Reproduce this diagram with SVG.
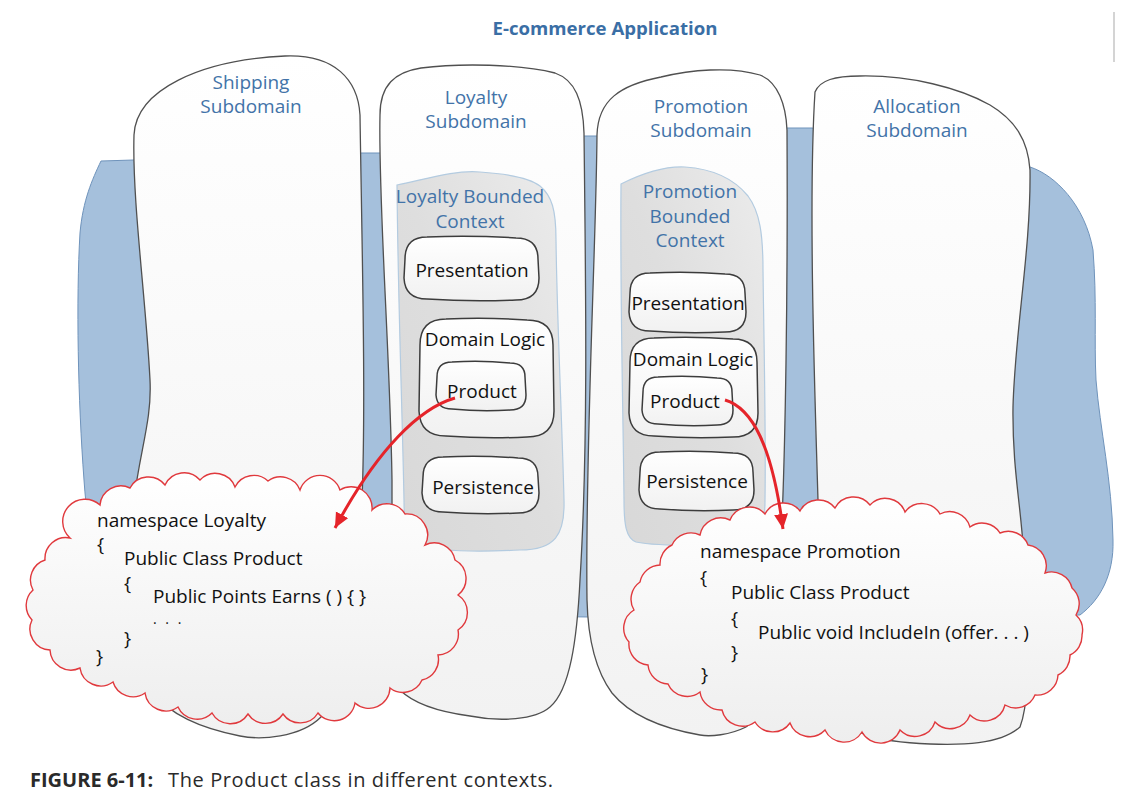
<svg xmlns="http://www.w3.org/2000/svg" width="1142" height="809" viewBox="0 0 1142 809">
<defs>
<linearGradient id="colGrad" x1="0" y1="0" x2="0" y2="1">
<stop offset="0" stop-color="#ffffff"/>
<stop offset="1" stop-color="#f2f2f2"/>
</linearGradient>
<linearGradient id="bcGrad" x1="1" y1="0" x2="0" y2="1">
<stop offset="0" stop-color="#ececec"/>
<stop offset="0.5" stop-color="#dedede"/>
<stop offset="1" stop-color="#d8d8d8"/>
</linearGradient>
<linearGradient id="boxGrad" x1="0" y1="0" x2="0" y2="1">
<stop offset="0" stop-color="#ffffff"/>
<stop offset="1" stop-color="#f1f1f1"/>
</linearGradient>
<linearGradient id="cloudGrad" x1="0" y1="0" x2="0" y2="1">
<stop offset="0" stop-color="#ffffff"/>
<stop offset="1" stop-color="#eeeeee"/>
</linearGradient>
<marker id="arrow" markerUnits="userSpaceOnUse" markerWidth="18" markerHeight="16" refX="15" refY="7" orient="auto">
<path d="M0,0 L15,7 L0,14 Z" fill="#e5242a"/>
</marker>
</defs>
<style>
.col{fill:url(#colGrad);stroke:#505050;stroke-width:1.3}
.bc{fill:url(#bcGrad);stroke:#b3cbe0;stroke-width:1.2}
.box{fill:url(#boxGrad);stroke:#3c3c3c;stroke-width:1.5}
.cloud{fill:url(#cloudGrad);stroke:#e0393d;stroke-width:1.4}
.blue{fill:#a5c0dc;stroke:#6f93bb;stroke-width:1}
.lbl{font-family:"Open Sans","Liberation Sans",sans-serif;font-size:19px;fill:#4273a8;text-anchor:middle}
.txt{font-family:"Open Sans","Liberation Sans",sans-serif;font-size:19px;fill:#111;text-anchor:middle}
.code{font-family:"Open Sans","Liberation Sans",sans-serif;font-size:19px;fill:#111}
.title{font-family:"Open Sans","Liberation Sans",sans-serif;font-size:18.6px;font-weight:bold;fill:#3a6ea5;text-anchor:middle}
.cap{font-family:"Open Sans","Liberation Sans",sans-serif;font-size:20px;fill:#2a2a2a}
.conn{fill:none;stroke:#e5242a;stroke-width:3;marker-end:url(#arrow)}
</style>
<rect x="0" y="0" width="1142" height="809" fill="#ffffff"/>
<line x1="1114" y1="12" x2="1114" y2="62" stroke="#d4d4d4" stroke-width="2"/>
<text class="title" x="605" y="35">E-commerce Application</text>

<g id="background">
<path class="blue" d="M101,161 L362,153 L380,153 L584,136 L597,136 L787,128 L812,128 L1030,167 C1055,175 1085,205 1093,250 C1097,300 1094,340 1096,380 C1100,430 1112,480 1113,540 C1114,575 1100,600 1080,615 L590,617 L120,612 C100,590 88,540 84,480 C78,400 76,300 80,233 C83,200 92,180 101,161 Z"/>
</g>

<g id="shipping">
<path class="col" d="M134,135 C136,90 200,60 285,56 C335,54 358,80 360,115 C362,250 366,400 362,500 C358,600 340,690 321,717 C300,738 260,740 240,736 C200,728 170,715 150,690 C135,600 130,520 134,500 C140,450 152,420 150,380 C146,300 132,200 134,135 Z"/>
<text class="lbl"><tspan x="251" y="89">Shipping</tspan><tspan x="251" y="113">Subdomain</tspan></text>
</g>

<g id="loyalty">
<path class="col" d="M380,115 C380,85 395,72 421,68 C460,63 520,64 555,73 C575,80 583,100 584,133 C586,300 588,450 580,580 C577,640 570,690 550,707 C535,720 500,722 470,716 C440,712 415,705 400,690 C392,650 392,560 392,480 C390,350 378,200 380,115 Z"/>
<text class="lbl"><tspan x="476" y="104">Loyalty</tspan><tspan x="476" y="128">Subdomain</tspan></text>
</g>

<g id="promotion">
<path class="col" d="M597,135 C598,100 620,85 661,77 C690,70 730,66 760,75 C778,82 786,105 787,130 C788,300 785,450 782,520 C778,600 770,680 760,705 C755,718 750,725 746,727 C730,735 710,737 700,735 C660,728 630,715 612,693 C595,670 588,640 587,600 C585,450 596,250 597,135 Z"/>
<text class="lbl"><tspan x="701" y="113">Promotion</tspan><tspan x="701" y="137">Subdomain</tspan></text>
</g>

<g id="allocation">
<path class="col" d="M815,92 C820,80 835,76 860,76 C910,75 960,88 990,105 C1015,120 1028,140 1030,170 C1031,250 1015,330 1013,407 C1012,480 1025,520 1026,600 C1027,660 1030,700 1020,727 C1000,745 960,745 930,744 C880,742 840,735 830,700 C824,600 820,550 818,500 C815,400 808,200 815,92 Z"/>
<text class="lbl"><tspan x="917" y="113">Allocation</tspan><tspan x="917" y="137">Subdomain</tspan></text>
</g>

<g id="loyalty-bc">
<path class="bc" d="M397,185 C430,178 455,170 480,172 C510,174 530,178 540,186 C552,196 556,210 556,240 C557,320 562,420 564,500 C565,535 555,550 520,550 C480,552 440,552 420,545 C405,538 404,520 404,500 C402,400 398,300 397,185 Z"/>
<text class="lbl"><tspan x="470" y="203">Loyalty Bounded</tspan><tspan x="470" y="228">Context</tspan></text>
</g>
<g id="loyalty-presentation">
<path class="box" d="M427,237 Q471,235 516,238 Q538,238 538,259 L539,278 Q539,300 516,300 Q471,302 427,299 Q405,299 404,278 L405,259 Q405,237 427,237 Z"/>
<text class="txt" x="472" y="277">Presentation</text>
</g>
<g id="loyalty-domain">
<path class="box" d="M446,319 Q486,317 527,320 Q553,320 553,345 L554,411 Q554,437 527,437 Q486,439 446,436 Q420,436 419,411 L420,345 Q420,319 446,319 Z"/>
<text class="txt" x="485" y="346">Domain Logic</text>
</g>
<g id="loyalty-product">
<path class="box" d="M452,362 Q481,360 510,363 Q525,363 525,377 L526,395 Q526,410 510,410 Q481,412 452,409 Q437,409 436,395 L437,377 Q437,362 452,362 Z"/>
<text class="txt" x="482" y="398">Product</text>
</g>
<g id="loyalty-persistence">
<path class="box" d="M443,457 Q480,455 518,458 Q538,458 538,477 L539,493 Q539,513 518,513 Q480,515 443,512 Q423,512 422,493 L423,477 Q423,457 443,457 Z"/>
<text class="txt" x="483" y="494">Persistence</text>
</g>

<g id="promotion-bc">
<path class="bc" d="M621,184 C645,172 665,166 685,167 C715,169 735,180 748,196 C760,212 763,235 763,270 C764,350 766,430 765,500 C765,530 760,545 730,545 C690,546 655,546 636,542 C626,538 624,525 624,500 C623,400 620,300 621,184 Z"/>
<text class="lbl"><tspan x="690" y="198">Promotion</tspan><tspan x="690" y="223">Bounded</tspan><tspan x="690" y="247">Context</tspan></text>
</g>
<g id="promotion-presentation">
<path class="box" d="M650,273 Q688,271 725,274 Q745,274 745,293 L746,312 Q746,332 725,332 Q688,334 650,331 Q630,331 629,312 L630,293 Q630,273 650,273 Z"/>
<text class="txt" x="688" y="310">Presentation</text>
</g>
<g id="promotion-domain">
<path class="box" d="M654,338 Q693,336 733,339 Q757,339 757,362 L758,413 Q758,437 733,437 Q693,439 654,436 Q630,436 629,413 L630,362 Q630,338 654,338 Z"/>
<text class="txt" x="693" y="366">Domain Logic</text>
</g>
<g id="promotion-product">
<path class="box" d="M658,377 Q688,375 717,378 Q732,378 732,392 L733,410 Q733,425 717,425 Q688,427 658,424 Q643,424 642,410 L643,392 Q643,377 658,377 Z"/>
<text class="txt" x="685" y="408">Product</text>
</g>
<g id="promotion-persistence">
<path class="box" d="M660,452 Q697,450 733,453 Q753,453 753,472 L754,490 Q754,510 733,510 Q697,512 660,509 Q640,509 639,490 L640,472 Q640,452 660,452 Z"/>
<text class="txt" x="697" y="488">Persistence</text>
</g>

<g id="loyalty-cloud">
<path class="cloud" d="M100,505 A21,21 0 0 1 130,488 A21,21 0 0 1 165,485 A21,21 0 0 1 200,480 A21,21 0 0 1 235,487 A21,21 0 0 1 268,481 A21,21 0 0 1 300,490 A21,21 0 0 1 340,490 A21,21 0 0 1 372,510 A21,21 0 0 1 405,514 A21,21 0 0 1 425,545 A21,21 0 0 1 455,560 A21,21 0 0 1 458,595 A21,21 0 0 1 458,630 A21,21 0 0 1 438,655 A21,21 0 0 1 422,680 A21,21 0 0 1 390,688 A21,21 0 0 1 355,703 A21,21 0 0 1 318,713 A21,21 0 0 1 283,714 A21,21 0 0 1 248,714 A21,21 0 0 1 212,713 A21,21 0 0 1 178,707 A21,21 0 0 1 145,693 A21,21 0 0 1 113,682 A21,21 0 0 1 80,668 A21,21 0 0 1 50,650 A21,21 0 0 1 32,620 A21,21 0 0 1 33,590 A21,21 0 0 1 45,560 A21,21 0 0 1 70,538 A21,21 0 0 1 100,505 Z"/>
<text class="code"><tspan x="97" y="527">namespace Loyalty</tspan><tspan x="97" y="551">{</tspan><tspan x="124" y="565">Public Class Product</tspan><tspan x="124" y="590">{</tspan><tspan x="153" y="603">Public Points Earns ( ) { }</tspan><tspan x="153" y="624" font-size="14" letter-spacing="2.5">. . .</tspan><tspan x="124" y="645">}</tspan><tspan x="96" y="663">}</tspan></text>
</g>

<g id="promotion-cloud">
<path class="cloud" d="M700,535 A21,21 0 0 1 730,520 A21,21 0 0 1 765,514 A21,21 0 0 1 800,511 A21,21 0 0 1 835,508 A21,21 0 0 1 870,505 A21,21 0 0 1 905,512 A21,21 0 0 1 940,514 A21,21 0 0 1 970,527 A21,21 0 0 1 1000,533 A21,21 0 0 1 1028,545 A21,21 0 0 1 1045,573 A21,21 0 0 1 1072,588 A21,21 0 0 1 1076,615 A21,21 0 0 1 1082,635 A21,21 0 0 1 1070,655 A21,21 0 0 1 1058,675 A21,21 0 0 1 1035,695 A21,21 0 0 1 1005,705 A21,21 0 0 1 970,715 A21,21 0 0 1 935,722 A21,21 0 0 1 900,730 A21,21 0 0 1 862,732 A21,21 0 0 1 825,730 A21,21 0 0 1 790,723 A21,21 0 0 1 755,722 A21,21 0 0 1 722,710 A21,21 0 0 1 700,692 A21,21 0 0 1 668,684 A21,21 0 0 1 648,665 A21,21 0 0 1 629,642 A21,21 0 0 1 634,610 A21,21 0 0 1 640,582 A21,21 0 0 1 660,565 A21,21 0 0 1 672,545 A21,21 0 0 1 700,535 Z"/>
<text class="code"><tspan x="700" y="558">namespace Promotion</tspan><tspan x="700" y="584">{</tspan><tspan x="731" y="599">Public Class Product</tspan><tspan x="731" y="625">{</tspan><tspan x="758" y="639">Public void IncludeIn (offer. . . )</tspan><tspan x="731" y="659">}</tspan><tspan x="701" y="681">}</tspan></text>
</g>

<g id="connectors">
<path class="conn" d="M455,398 C420,408 378,448 335,528"/>
<path class="conn" d="M725,400 C752,408 772,445 783,529"/>
</g>

<text class="cap"><tspan x="30" y="787" font-weight="bold">FIGURE 6-11:</tspan><tspan x="168" y="787" textLength="385" lengthAdjust="spacing">The Product class in different contexts.</tspan></text>
</svg>
